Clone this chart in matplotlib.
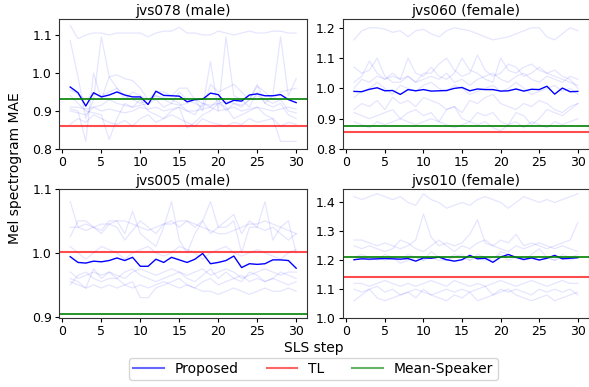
import matplotlib
matplotlib.use("Agg")
import matplotlib.pyplot as plt
from matplotlib.lines import Line2D

steps = list(range(1, 31))

titles = ["jvs078 (male)", "jvs060 (female)", "jvs005 (male)", "jvs010 (female)"]

# Proposed (SLS) curves
proposed_078 = [0.963, 0.948, 0.913, 0.948, 0.937, 0.942, 0.950, 0.942, 0.937, 0.937,
                0.917, 0.952, 0.941, 0.940, 0.939, 0.924, 0.930, 0.931, 0.947, 0.943,
                0.919, 0.928, 0.926, 0.942, 0.945, 0.940, 0.940, 0.943, 0.930, 0.922]
proposed_060 = [0.990, 0.989, 0.997, 1.002, 0.992, 0.993, 0.980, 0.996, 0.992, 0.996,
                0.991, 0.992, 0.993, 1.000, 1.003, 0.992, 0.998, 0.996, 0.996, 0.991,
                0.992, 0.998, 0.991, 0.997, 0.996, 1.007, 0.981, 1.001, 0.989, 0.990]
proposed_005 = [0.994, 0.985, 0.984, 0.987, 0.986, 0.988, 0.992, 0.988, 0.993, 0.979,
                0.979, 0.990, 0.985, 0.993, 0.989, 0.985, 0.990, 0.999, 0.983, 0.985,
                0.988, 0.995, 0.977, 0.983, 0.982, 0.983, 0.989, 0.989, 0.988, 0.976]
proposed_010 = [1.202, 1.205, 1.204, 1.205, 1.206, 1.205, 1.204, 1.206, 1.197, 1.208,
                1.207, 1.211, 1.202, 1.197, 1.202, 1.217, 1.205, 1.207, 1.193, 1.211,
                1.220, 1.210, 1.203, 1.208, 1.201, 1.207, 1.217, 1.205, 1.207, 1.209]

# baselines
tl_vals = [0.861, 0.855, 1.001, 1.143]
mean_speaker_vals = [0.932, 0.876, 0.905, 1.210]

# faint per-sentence curves
faint_078 = [
    [1.125, 1.09, 1.10, 1.105, 1.105, 1.10, 1.105, 1.105, 1.105, 1.105, 1.095, 1.105, 1.11, 1.11, 1.12,
     1.105, 1.105, 1.10, 1.10, 1.11, 1.105, 1.10, 1.105, 1.11, 1.105, 1.105, 1.11, 1.11, 1.105, 1.105],
    [1.085, 0.99, 0.88, 0.93, 1.095, 0.99, 0.96, 0.93, 0.95, 0.94, 0.93, 0.94, 0.93, 0.92, 0.95,
     0.93, 0.92, 0.91, 1.03, 0.90, 1.095, 0.94, 0.93, 0.91, 0.95, 0.92, 0.94, 1.095, 0.94, 0.985],
    [0.905, 0.90, 0.82, 1.00, 0.93, 0.99, 0.995, 0.985, 0.98, 0.96, 0.93, 0.95, 0.95, 0.94, 0.96,
     0.96, 0.93, 0.90, 0.97, 0.95, 0.96, 0.97, 0.95, 0.93, 0.965, 0.95, 0.93, 0.95, 0.955, 0.96],
    [0.90, 0.895, 0.89, 0.91, 0.90, 0.905, 0.90, 0.895, 0.90, 0.91, 0.905, 0.91, 0.90, 0.905, 0.91,
     0.90, 0.90, 0.905, 0.91, 0.90, 0.905, 0.91, 0.90, 0.905, 0.91, 0.905, 0.90, 0.905, 0.91, 0.905],
    [0.865, 0.88, 0.87, 0.89, 0.88, 0.87, 0.865, 0.875, 0.86, 0.88, 0.89, 0.87, 0.88, 0.89, 0.88,
     0.87, 0.86, 0.88, 0.87, 0.865, 0.86, 0.87, 0.865, 0.88, 0.87, 0.875, 0.88, 0.86, 0.87, 0.865],
    [0.94, 0.92, 0.90, 0.895, 0.89, 0.825, 0.88, 0.92, 0.91, 0.93, 0.90, 0.89, 0.88, 0.90, 0.91,
     0.855, 0.87, 0.89, 0.90, 0.92, 0.91, 0.88, 0.89, 0.90, 0.91, 0.89, 0.88, 0.82, 0.82, 0.82],
    [0.91, 0.91, 0.905, 0.91, 0.915, 0.93, 0.92, 0.915, 0.91, 0.915, 0.92, 0.93, 0.91, 0.92, 0.915,
     0.92, 0.93, 0.92, 0.915, 0.92, 0.925, 0.92, 0.915, 0.93, 0.97, 0.92, 0.91, 0.92, 0.89, 0.88],
    [0.955, 0.945, 0.93, 0.945, 0.94, 0.95, 0.96, 0.94, 0.93, 0.92, 0.93, 0.94, 0.935, 0.93, 0.92,
     0.90, 0.89, 0.92, 0.91, 0.93, 0.90, 0.92, 0.91, 0.93, 0.94, 0.93, 0.92, 0.93, 0.90, 0.895],
]
faint_060 = [
    [1.16, 1.19, 1.20, 1.20, 1.195, 1.185, 1.19, 1.17, 1.19, 1.195, 1.18, 1.17, 1.19, 1.20, 1.195,
     1.19, 1.18, 1.17, 1.16, 1.165, 1.17, 1.18, 1.19, 1.20, 1.20, 1.17, 1.16, 1.18, 1.20, 1.19],
    [1.07, 1.05, 1.06, 1.10, 1.04, 1.02, 1.02, 1.04, 1.02, 1.05, 1.05, 1.08, 1.10, 1.06, 1.04,
     1.05, 1.11, 1.06, 1.04, 1.05, 1.08, 1.07, 1.04, 1.05, 1.07, 1.05, 1.04, 1.03, 1.02, 1.01],
    [1.02, 1.04, 1.09, 1.05, 1.03, 1.04, 1.03, 1.10, 1.05, 1.04, 1.07, 1.04, 1.03, 1.05, 1.10,
     1.06, 1.05, 1.03, 1.02, 1.10, 1.06, 1.05, 1.07, 1.08, 1.06, 1.05, 1.06, 1.04, 1.03, 1.00],
    [0.93, 0.95, 0.94, 0.96, 0.93, 0.97, 0.95, 0.96, 0.94, 0.97, 0.96, 0.95, 0.93, 0.94, 0.92,
     0.96, 0.95, 0.97, 0.98, 0.95, 0.94, 0.93, 0.95, 0.94, 0.96, 0.95, 0.93, 0.92, 0.94, 0.95],
    [0.92, 0.91, 0.90, 0.91, 0.92, 0.93, 0.90, 0.92, 0.93, 0.91, 0.92, 0.89, 0.93, 0.94, 0.90,
     0.89, 0.92, 0.91, 0.92, 0.89, 0.88, 0.92, 0.91, 0.88, 0.90, 0.93, 0.92, 0.91, 0.93, 0.95],
    [0.89, 0.88, 0.87, 0.89, 0.88, 0.89, 0.90, 0.89, 0.88, 0.89, 0.90, 0.89, 0.88, 0.87, 0.88,
     0.89, 0.88, 0.89, 0.87, 0.86, 0.88, 0.89, 0.87, 0.89, 0.88, 0.87, 0.89, 0.88, 0.89, 0.90],
    [0.97, 0.99, 1.00, 1.02, 1.00, 0.98, 1.01, 1.00, 0.99, 1.01, 1.02, 1.00, 0.99, 1.01, 1.00,
     0.98, 0.99, 1.00, 1.01, 0.99, 1.00, 1.02, 1.00, 0.98, 0.99, 1.00, 1.01, 0.99, 1.00, 0.98],
    [1.00, 1.03, 1.02, 1.04, 1.03, 1.05, 1.03, 1.04, 1.02, 1.03, 1.04, 1.03, 1.05, 1.02, 1.03,
     1.01, 1.03, 1.04, 1.05, 1.03, 1.02, 1.04, 1.05, 1.03, 1.02, 1.04, 1.03, 1.02, 1.04, 1.03],
]
faint_005 = [
    [1.08, 1.04, 1.045, 1.04, 1.03, 1.045, 1.04, 1.02, 1.035, 1.05, 1.04, 1.03, 1.045, 1.05, 1.04,
     1.05, 1.04, 1.05, 1.03, 1.04, 1.05, 1.06, 1.03, 1.05, 1.04, 1.035, 1.04, 1.03, 1.02, 1.03],
    [1.025, 1.05, 1.05, 1.04, 1.035, 1.05, 1.05, 1.03, 1.065, 1.03, 1.02, 1.01, 1.04, 1.08, 1.02,
     1.00, 1.03, 1.05, 1.08, 1.04, 1.04, 1.05, 1.00, 1.04, 1.04, 1.08, 1.02, 1.04, 1.05, 1.00],
    [1.04, 1.04, 1.035, 1.04, 1.045, 1.045, 1.05, 1.05, 1.045, 1.04, 1.035, 1.04, 1.045, 1.045, 1.05,
     1.05, 1.045, 1.04, 1.035, 1.03, 1.03, 1.035, 1.04, 1.045, 1.045, 1.05, 1.045, 1.04, 1.035, 1.03],
    [0.96, 0.955, 0.945, 0.975, 0.96, 0.97, 0.96, 0.97, 0.975, 0.965, 0.96, 0.955, 0.96, 0.965, 0.97,
     0.96, 0.955, 0.965, 0.975, 0.96, 0.97, 0.96, 0.955, 0.97, 0.965, 0.955, 0.96, 0.97, 0.965, 0.96],
    [0.95, 0.965, 0.97, 0.96, 0.955, 0.96, 0.96, 0.95, 0.955, 0.93, 0.93, 0.945, 0.95, 0.955, 0.96,
     0.95, 0.945, 0.955, 0.96, 0.95, 0.955, 0.96, 0.965, 0.955, 0.96, 0.955, 0.96, 0.955, 0.95, 0.955],
    [0.955, 0.95, 0.945, 0.95, 0.945, 0.95, 0.945, 0.95, 0.945, 0.95, 0.945, 0.95, 0.955, 0.95, 0.945,
     0.95, 0.945, 0.94, 0.94, 0.935, 0.94, 0.945, 0.94, 0.935, 0.94, 0.945, 0.94, 0.94, 0.945, 0.94],
    [0.97, 0.96, 0.965, 0.97, 0.965, 0.97, 0.965, 0.96, 0.97, 0.975, 0.97, 0.965, 0.97, 0.975, 0.97,
     0.965, 0.97, 0.975, 0.965, 0.97, 0.975, 0.97, 0.96, 0.965, 0.97, 0.975, 0.97, 0.965, 0.97, 0.97],
    [1.01, 1.00, 0.99, 1.00, 1.01, 1.005, 1.00, 0.99, 1.00, 1.005, 1.01, 1.00, 0.995, 1.00, 1.01,
     1.005, 1.00, 0.99, 1.00, 1.005, 1.01, 1.00, 0.995, 1.00, 1.005, 1.00, 0.995, 0.99, 1.00, 1.005],
]
faint_010 = [
    [1.42, 1.41, 1.42, 1.43, 1.42, 1.41, 1.42, 1.40, 1.39, 1.43, 1.41, 1.40, 1.38, 1.39, 1.40,
     1.39, 1.41, 1.42, 1.41, 1.40, 1.38, 1.40, 1.42, 1.41, 1.40, 1.41, 1.40, 1.41, 1.42, 1.43],
    [1.27, 1.27, 1.26, 1.25, 1.26, 1.25, 1.24, 1.25, 1.27, 1.36, 1.28, 1.25, 1.26, 1.25, 1.26,
     1.29, 1.34, 1.26, 1.25, 1.27, 1.26, 1.29, 1.25, 1.26, 1.25, 1.24, 1.25, 1.26, 1.27, 1.33],
    [1.25, 1.24, 1.25, 1.24, 1.23, 1.24, 1.27, 1.26, 1.24, 1.23, 1.25, 1.27, 1.25, 1.23, 1.25,
     1.24, 1.26, 1.27, 1.25, 1.24, 1.23, 1.25, 1.24, 1.25, 1.26, 1.25, 1.24, 1.25, 1.24, 1.23],
    [1.21, 1.22, 1.21, 1.20, 1.22, 1.21, 1.20, 1.22, 1.21, 1.20, 1.23, 1.21, 1.20, 1.22, 1.21,
     1.20, 1.22, 1.21, 1.20, 1.23, 1.22, 1.21, 1.20, 1.22, 1.24, 1.21, 1.20, 1.22, 1.21, 1.22],
    [1.12, 1.12, 1.11, 1.12, 1.13, 1.12, 1.11, 1.12, 1.11, 1.12, 1.13, 1.12, 1.11, 1.13, 1.12,
     1.11, 1.12, 1.11, 1.12, 1.13, 1.12, 1.11, 1.12, 1.13, 1.12, 1.11, 1.12, 1.13, 1.12, 1.12],
    [1.10, 1.09, 1.10, 1.11, 1.09, 1.10, 1.08, 1.09, 1.10, 1.09, 1.08, 1.09, 1.10, 1.09, 1.10,
     1.09, 1.10, 1.11, 1.08, 1.10, 1.09, 1.10, 1.09, 1.08, 1.10, 1.09, 1.10, 1.09, 1.10, 1.08],
    [1.06, 1.08, 1.10, 1.07, 1.06, 1.07, 1.08, 1.09, 1.07, 1.10, 1.08, 1.07, 1.06, 1.08, 1.07,
     1.09, 1.06, 1.07, 1.08, 1.09, 1.10, 1.08, 1.07, 1.06, 1.07, 1.08, 1.06, 1.07, 1.08, 1.09],
    [1.20, 1.21, 1.20, 1.21, 1.20, 1.21, 1.19, 1.20, 1.21, 1.20, 1.21, 1.20, 1.20, 1.21, 1.22,
     1.20, 1.21, 1.20, 1.21, 1.22, 1.20, 1.21, 1.20, 1.21, 1.20, 1.21, 1.20, 1.21, 1.20, 1.21],
]

proposed = [proposed_078, proposed_060, proposed_005, proposed_010]
faint = [faint_078, faint_060, faint_005, faint_010]
ylims = [(0.8, 1.142), (0.8, 1.229), (0.898, 1.1), (1.0, 1.447)]
yticks = [[0.8, 0.9, 1.0, 1.1], [0.8, 0.9, 1.0, 1.1, 1.2],
          [0.9, 1.0, 1.1], [1.0, 1.1, 1.2, 1.3, 1.4]]

fig = plt.figure(figsize=(5.89, 3.87), dpi=100)
# axes boxes in figure fractions (left, bottom, width, height)
boxes = [(0.100, 0.615, 0.422, 0.336), (0.582, 0.615, 0.418, 0.336),
         (0.100, 0.178, 0.422, 0.334), (0.582, 0.178, 0.418, 0.334)]

for i in range(4):
    ax = fig.add_axes(boxes[i])
    for line in faint[i]:
        ax.plot(steps, line, color="blue", alpha=0.1, linewidth=0.9)
    ax.plot(steps, proposed[i], color="blue", linewidth=1.0)
    ax.axhline(tl_vals[i], color="red", alpha=0.7, linewidth=1.5)
    ax.axhline(mean_speaker_vals[i], color="green", linewidth=1.2)
    ax.set_ylim(*ylims[i])
    ax.set_yticks(yticks[i])
    ax.set_xticks([0, 5, 10, 15, 20, 25, 30])
    ax.set_title(titles[i], fontsize=10, pad=3)
    ax.tick_params(labelsize=9, length=3, pad=2)
    for s in ax.spines.values():
        s.set_color("#333333")

fig.text(0.025, 0.565, "Mel spectrogram MAE", rotation=90, ha="center", va="center", fontsize=10)
fig.text(0.532, 0.10, "SLS step", ha="center", va="center", fontsize=10)

handles = [Line2D([], [], color="blue", alpha=0.6, linewidth=1.5),
           Line2D([], [], color="red", alpha=0.6, linewidth=1.5),
           Line2D([], [], color="green", alpha=0.6, linewidth=1.5)]
fig.legend(handles, ["Proposed", "TL", "Mean-Speaker"], ncol=3, loc="lower center",
           bbox_to_anchor=(0.532, 0.0), fontsize=10, handlelength=2.2, columnspacing=2.0,
           borderpad=0.3)

fig.savefig("out.png", dpi=100)
